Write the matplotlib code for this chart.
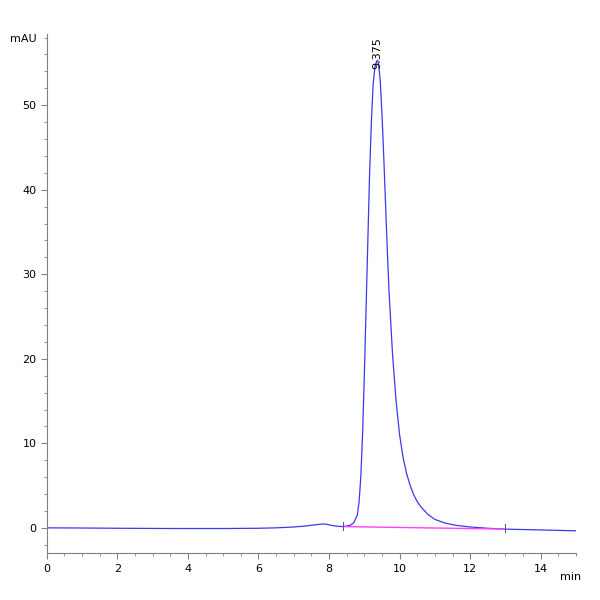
import matplotlib
matplotlib.use("Agg")
import matplotlib.pyplot as plt
from matplotlib.ticker import MultipleLocator

t = [0, 1, 2, 3, 4, 5, 6, 6.5, 7.0, 7.3, 7.6, 7.8, 7.9, 8.0, 8.2, 8.4, 8.6, 8.7, 8.8, 8.85, 8.9, 8.95,
     9.0, 9.05, 9.1, 9.15, 9.2, 9.25, 9.3, 9.35, 9.375, 9.4, 9.45, 9.5, 9.55, 9.6, 9.65, 9.7, 9.8, 9.9,
     10.0, 10.1, 10.2, 10.3, 10.4, 10.5, 10.6, 10.8, 11.0, 11.3, 11.6, 12.0, 12.5, 13.0, 14.0, 15.0]
mau = [0.0, -0.02, -0.05, -0.07, -0.08, -0.08, -0.05, 0.0, 0.1, 0.2, 0.35, 0.45, 0.45, 0.35, 0.2, 0.15, 0.3, 0.6, 1.5, 3.0, 6.0, 11.0,
       18.0, 26.0, 34.0, 42.0, 48.0, 52.5, 54.5, 55.2, 55.3, 55.0, 53.0, 49.0, 44.0, 38.5, 33.0, 28.0, 20.5, 15.0,
       11.0, 8.3, 6.4, 5.0, 3.9, 3.1, 2.5, 1.6, 1.0, 0.55, 0.3, 0.1, -0.05, -0.15, -0.25, -0.35]
base_t = [8.4, 13.0]
base_y = [0.15, -0.15]
peak_t = 9.375
peak_y = 55.3

fig = plt.figure(figsize=(6, 6), dpi=100)
ax = fig.add_axes([0.078, 0.078, 0.882, 0.865])
ax.plot(t, mau, color="#3a3af0", lw=0.9)
ax.plot(base_t, base_y, color="#ff40ff", lw=1.0)
for bt, by in zip(base_t, base_y):
    ax.plot([bt, bt], [by - 0.4, by + 0.6], color="#5050a0", lw=0.7)
ax.text(peak_t, peak_y - 1.0, "9.375", rotation=90, ha="center", va="bottom", fontsize=8)
ax.set_xlim(0, 15)
ax.set_ylim(-3, 58.4)
ax.xaxis.set_major_locator(MultipleLocator(2))
ax.xaxis.set_minor_locator(MultipleLocator(0.5))
ax.yaxis.set_major_locator(MultipleLocator(10))
ax.yaxis.set_minor_locator(MultipleLocator(2))
for s in ["top", "right"]:
    ax.spines[s].set_visible(False)
for s in ["left", "bottom"]:
    ax.spines[s].set_color("#808080")
ax.tick_params(which="both", colors="#808080", labelcolor="black", labelsize=8)
ax.tick_params(which="major", length=4)
ax.tick_params(which="minor", length=2.5)
ax.text(-0.02, 1.0, "mAU", transform=ax.transAxes, ha="right", va="top", fontsize=8)
ax.text(0.99, -0.045, "min", transform=ax.transAxes, ha="center", va="center", fontsize=8)
fig.savefig("out.png")
